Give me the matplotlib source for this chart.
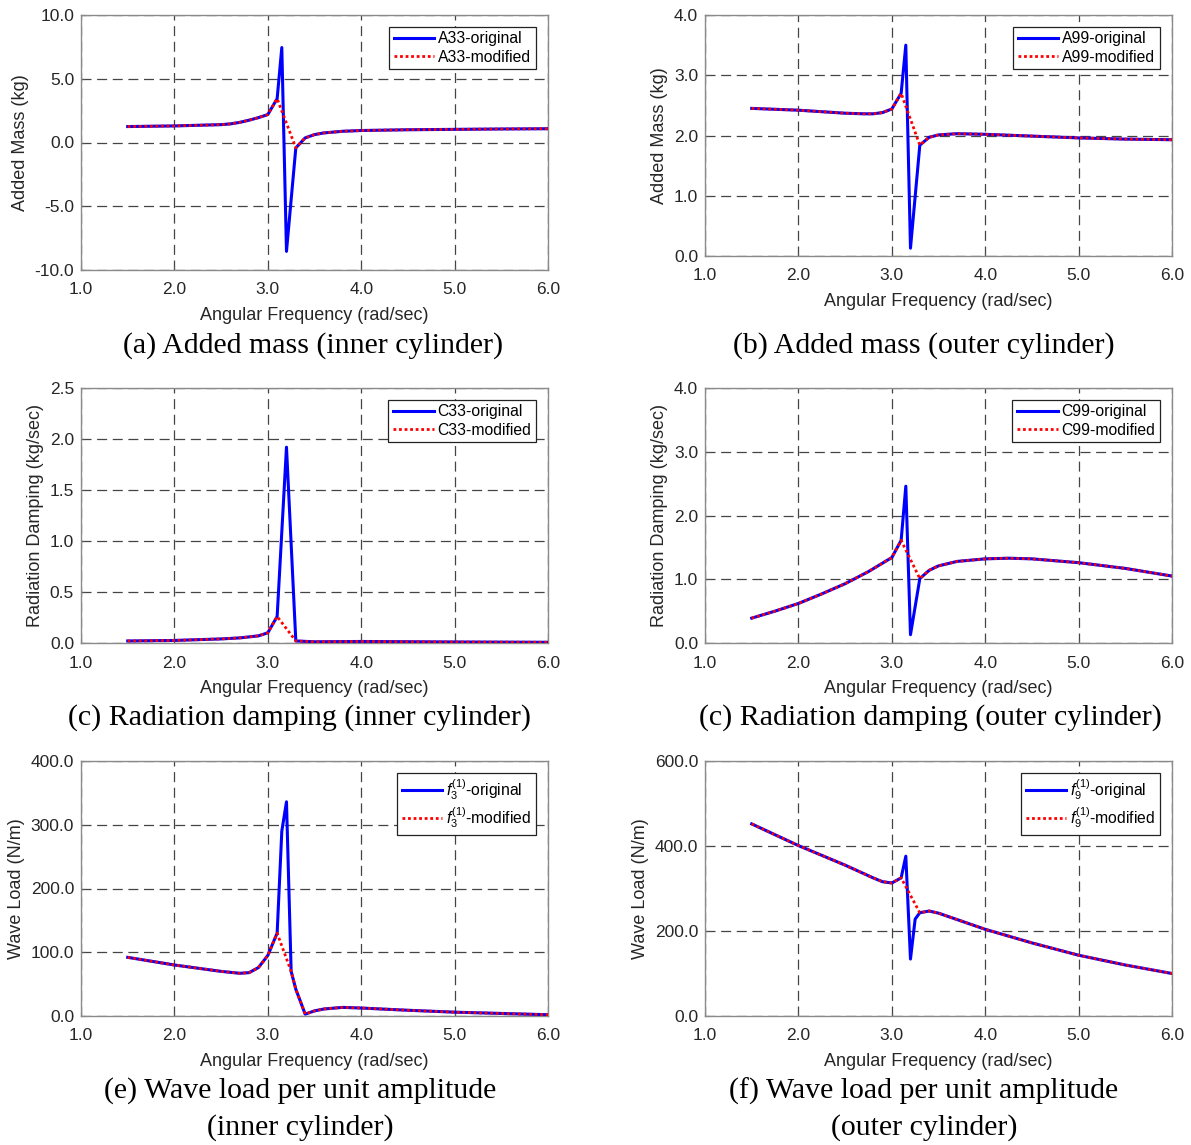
import matplotlib
matplotlib.use("Agg")
import matplotlib.pyplot as plt
from matplotlib.ticker import FormatStrFormatter

plt.rcParams['font.family'] = ['Liberation Sans', 'DejaVu Sans']
plt.rcParams['mathtext.fontset'] = 'custom'
plt.rcParams['mathtext.it'] = 'Liberation Sans:italic'
plt.rcParams['mathtext.rm'] = 'Liberation Sans'

# ---------------- data ----------------
# (a) A33 inner cylinder added mass
freq_a_orig = [1.5, 2.0, 2.5, 2.6, 2.7, 2.8, 2.9, 3.0, 3.1, 3.15, 3.2, 3.3, 3.4, 3.5, 3.6, 3.8, 4.0, 4.5, 5.0, 5.5, 6.0]
a33_orig = [1.25, 1.30, 1.40, 1.46, 1.58, 1.75, 1.95, 2.19, 3.44, 7.45, -8.54, -0.42, 0.36, 0.62, 0.75, 0.88, 0.94, 1.00, 1.03, 1.06, 1.08]
freq_a_mod = [1.5, 2.0, 2.5, 2.6, 2.7, 2.8, 2.9, 3.0, 3.1, 3.3, 3.4, 3.5, 3.6, 3.8, 4.0, 4.5, 5.0, 5.5, 6.0]
a33_mod = [1.25, 1.30, 1.40, 1.46, 1.58, 1.75, 1.95, 2.19, 3.44, -0.42, 0.36, 0.62, 0.75, 0.88, 0.94, 1.00, 1.03, 1.06, 1.08]

# (b) A99 outer cylinder added mass
freq_b_orig = [1.5, 2.0, 2.5, 2.7, 2.8, 2.9, 3.0, 3.1, 3.15, 3.2, 3.3, 3.4, 3.5, 3.7, 4.0, 4.5, 5.0, 5.5, 6.0]
a99_orig = [2.45, 2.42, 2.37, 2.36, 2.36, 2.38, 2.44, 2.70, 3.50, 0.13, 1.84, 1.97, 2.01, 2.03, 2.02, 1.99, 1.96, 1.94, 1.93]
freq_b_mod = [1.5, 2.0, 2.5, 2.7, 2.8, 2.9, 3.0, 3.1, 3.3, 3.4, 3.5, 3.7, 4.0, 4.5, 5.0, 5.5, 6.0]
a99_mod = [2.45, 2.42, 2.37, 2.36, 2.36, 2.38, 2.44, 2.70, 1.84, 1.97, 2.01, 2.03, 2.02, 1.99, 1.96, 1.94, 1.93]

# (c) C33 inner cylinder radiation damping
freq_c_orig = [1.5, 2.0, 2.5, 2.7, 2.9, 3.0, 3.1, 3.15, 3.2, 3.3, 3.5, 4.0, 5.0, 6.0]
c33_orig = [0.02, 0.025, 0.04, 0.05, 0.07, 0.10, 0.26, 1.09, 1.92, 0.02, 0.012, 0.015, 0.01, 0.007]
freq_c_mod = [1.5, 2.0, 2.5, 2.7, 2.9, 3.0, 3.1, 3.3, 3.5, 4.0, 5.0, 6.0]
c33_mod = [0.02, 0.025, 0.04, 0.05, 0.07, 0.10, 0.26, 0.02, 0.012, 0.015, 0.01, 0.007]

# (d) C99 outer cylinder radiation damping
freq_d_orig = [1.5, 1.75, 2.0, 2.25, 2.5, 2.75, 3.0, 3.1, 3.15, 3.2, 3.3, 3.4, 3.5, 3.7, 4.0, 4.25, 4.5, 5.0, 5.5, 6.0]
c99_orig = [0.39, 0.50, 0.62, 0.77, 0.93, 1.12, 1.34, 1.61, 2.46, 0.13, 1.01, 1.14, 1.21, 1.28, 1.32, 1.33, 1.32, 1.26, 1.17, 1.05]
freq_d_mod = [1.5, 1.75, 2.0, 2.25, 2.5, 2.75, 3.0, 3.1, 3.3, 3.4, 3.5, 3.7, 4.0, 4.25, 4.5, 5.0, 5.5, 6.0]
c99_mod = [0.39, 0.50, 0.62, 0.77, 0.93, 1.12, 1.34, 1.61, 1.01, 1.14, 1.21, 1.28, 1.32, 1.33, 1.32, 1.26, 1.17, 1.05]

# (e) f3 inner cylinder wave load
freq_e_orig = [1.5, 2.0, 2.5, 2.7, 2.8, 2.9, 3.0, 3.1, 3.15, 3.2, 3.25, 3.3, 3.4, 3.5, 3.6, 3.8, 4.0, 4.5, 5.0, 5.5, 6.0]
f3_orig = [92, 80, 70, 67, 68, 76, 95, 130, 290, 336, 70, 42, 3, 8, 11, 13.5, 12.5, 9, 6, 4, 2]
freq_e_mod = [1.5, 2.0, 2.5, 2.7, 2.8, 2.9, 3.0, 3.1, 3.25, 3.3, 3.4, 3.5, 3.6, 3.8, 4.0, 4.5, 5.0, 5.5, 6.0]
f3_mod = [92, 80, 70, 67, 68, 76, 95, 130, 70, 42, 3, 8, 11, 13.5, 12.5, 9, 6, 4, 2]

# (f) f9 outer cylinder wave load
freq_f_orig = [1.5, 2.0, 2.5, 2.8, 2.9, 3.0, 3.1, 3.15, 3.2, 3.25, 3.3, 3.4, 3.5, 4.0, 4.5, 5.0, 5.5, 6.0]
f9_orig = [452, 401, 355, 325, 316, 313, 325, 376, 134, 228, 243, 247, 242, 204, 172, 143, 120, 100]
freq_f_mod = [1.5, 2.0, 2.5, 2.8, 2.9, 3.0, 3.1, 3.3, 3.4, 3.5, 4.0, 4.5, 5.0, 5.5, 6.0]
f9_mod = [452, 401, 355, 325, 316, 313, 325, 243, 247, 242, 204, 172, 143, 120, 100]

x_ticks = [1.0, 2.0, 3.0, 4.0, 5.0, 6.0]

W, H = 1191, 1145
fig = plt.figure(figsize=(W / 100, H / 100), dpi=100)


def add_ax(left, right, top, bottom):
    return fig.add_axes([left / W, 1 - bottom / H, (right - left) / W, (bottom - top) / H])


def style(ax, yticks, ylabel, labelpad):
    ax.set_xlim(1.0, 6.0)
    ax.set_ylim(yticks[0], yticks[-1])
    ax.set_xticks(x_ticks)
    ax.set_yticks(yticks)
    ax.xaxis.set_major_formatter(FormatStrFormatter('%.1f'))
    ax.yaxis.set_major_formatter(FormatStrFormatter('%.1f'))
    ax.grid(True, color='#444444', linestyle=(0, (8, 4.5)), linewidth=0.9)
    for s in ax.spines.values():
        s.set_color('#8a8a8a')
        s.set_linewidth(1.0)
    ax.tick_params(direction='in', length=3, width=0.8, color='#555555',
                   labelsize=12.5, labelcolor='#262626')
    ax.tick_params(axis='x', pad=9)
    ax.tick_params(axis='y', pad=5)
    ax.set_xlabel('Angular Frequency (rad/sec)', fontsize=13, color='#262626', labelpad=7)
    ax.set_ylabel(ylabel, fontsize=13, color='#262626', labelpad=labelpad)


def draw(ax, xo, yo, xm, ym, lab_o, lab_m):
    ax.plot(xo, yo, color='#0000ff', linewidth=2.2, label=lab_o, zorder=3)
    ax.plot(xm, ym, color='#ff0000', linewidth=2.0, linestyle=(0, (1, 1)), label=lab_m, zorder=4)
    leg = ax.legend(loc='upper right', fontsize=11.3, fancybox=False, framealpha=1,
                    edgecolor='#222222', borderaxespad=0.75, handlelength=2.6,
                    handletextpad=0.25, borderpad=0.3, labelspacing=0.2)
    leg.get_frame().set_linewidth(0.9)


# (a)
ax = add_ax(81, 548, 15, 270)
draw(ax, freq_a_orig, a33_orig, freq_a_mod, a33_mod, 'A33-original', 'A33-modified')
style(ax, [-10.0, -5.0, 0.0, 5.0, 10.0], 'Added Mass (kg)', 4)

# (b)
ax = add_ax(705, 1172, 15, 256)
draw(ax, freq_b_orig, a99_orig, freq_b_mod, a99_mod, 'A99-original', 'A99-modified')
style(ax, [0.0, 1.0, 2.0, 3.0, 4.0], 'Added Mass (kg)', 4)

# (c)
ax = add_ax(81, 548, 388, 643)
draw(ax, freq_c_orig, c33_orig, freq_c_mod, c33_mod, 'C33-original', 'C33-modified')
style(ax, [0.0, 0.5, 1.0, 1.5, 2.0, 2.5], 'Radiation Damping (kg/sec)', 4)

# (d)
ax = add_ax(705, 1172, 388, 643)
draw(ax, freq_d_orig, c99_orig, freq_d_mod, c99_mod, 'C99-original', 'C99-modified')
style(ax, [0.0, 1.0, 2.0, 3.0, 4.0], 'Radiation Damping (kg/sec)', 4)

# (e)
ax = add_ax(81, 548, 761, 1016)
draw(ax, freq_e_orig, f3_orig, freq_e_mod, f3_mod,
     r'$f_{3}^{(1)}$-original', r'$f_{3}^{(1)}$-modified')
style(ax, [0.0, 100.0, 200.0, 300.0, 400.0], 'Wave Load (N/m)', 4)

# (f)
ax = add_ax(705, 1172, 761, 1016)
draw(ax, freq_f_orig, f9_orig, freq_f_mod, f9_mod,
     r'$f_{9}^{(1)}$-original', r'$f_{9}^{(1)}$-modified')
style(ax, [0.0, 200.0, 400.0, 600.0], 'Wave Load (N/m)', 4)

# captions
cap_kw = dict(fontsize=21.5, family='Liberation Serif', ha='center', va='center', color='black')
captions = [
    (313, 346, '(a) Added mass (inner cylinder)'),
    (924, 346, '(b) Added mass (outer cylinder)'),
    (300, 718, '(c) Radiation damping (inner cylinder)'),
    (930, 718, '(c) Radiation damping (outer cylinder)'),
    (300, 1091, '(e) Wave load per unit amplitude'),
    (300, 1128, '(inner cylinder)'),
    (924, 1091, '(f) Wave load per unit amplitude'),
    (924, 1128, '(outer cylinder)'),
]
for cx, cy, txt in captions:
    fig.text(cx / W, 1 - cy / H, txt, **cap_kw)

fig.savefig('out.png', dpi=100)
